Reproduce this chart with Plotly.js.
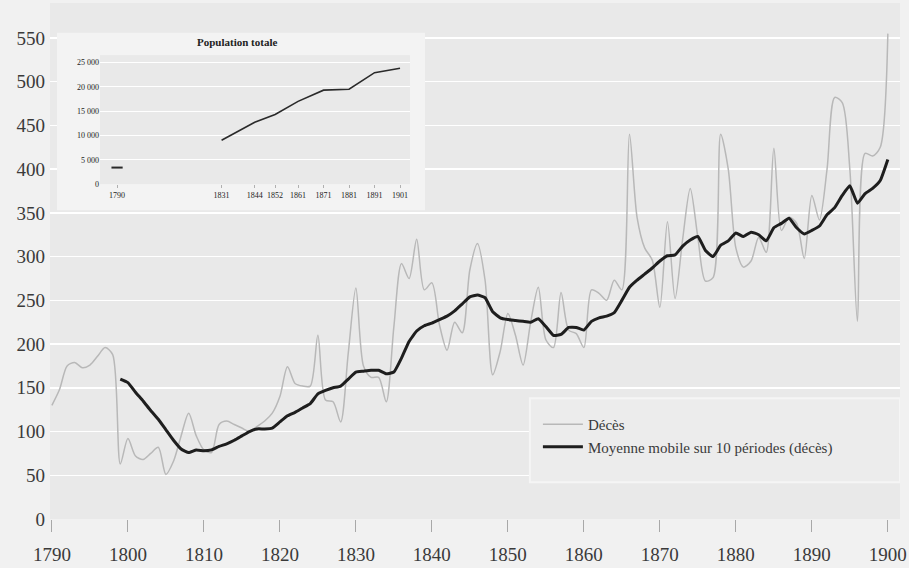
<!DOCTYPE html>
<html>
<head>
<meta charset="utf-8">
<script src="https://cdn.plot.ly/plotly-3.0.1.min.js"></script>
<style>
html,body{margin:0;padding:0;background:#f1f1f1;}
#chart{width:909px;height:568px;}
</style>
</head>
<body>
<div id="chart"></div>
<script>
// ---- Data ----
const deathStartYear = 1790;
const deaths = [
  130,148,175,179,173,176,186,196,188,63,
  92,72,68,75,82,51,66,95,121,95,
  79,76,108,112,108,104,100,106,112,121,
  140,174,155,152,152,210,136,134,111,190,
  264,175,162,162,134,220,292,275,320,262,
  270,222,193,225,213,285,315,273,165,192,
  235,210,176,225,265,205,196,259,216,212,
  196,262,258,250,273,262,440,345,310,296,
  242,340,252,320,378,322,272,276,440,400,
  310,288,295,322,305,424,330,345,338,298,
  370,342,400,482,476,400,226,418,415,425,
  555
];
const maStartYear = 1799;
const movingAvg = [
  160,156,145,135,124,114,102,90,80,76,
  79,78,79,83,86,90,95,100,103,103,
  104,111,118,122,127,132,143,147,150,152,
  160,168,169,170,170,166,168,184,203,215,
  221,224,228,232,238,246,254,256,253,237,
  230,228,227,226,225,229,220,210,211,219,
  219,216,226,230,232,236,250,265,273,280,
  287,295,301,302,312,319,323,307,300,313,
  318,327,323,328,325,318,333,338,344,333,
  326,330,335,348,356,370,381,361,372,378,
  387,411
];
const mainXTicks = [1790,1800,1810,1820,1830,1840,1850,1860,1870,1880,1890,1900];
const mainYTicks = [0,50,100,150,200,250,300,350,400,450,500,550];

const popYears  = [1790,1831,1844,1852,1861,1871,1881,1891,1901];
const popValues = [3400,9000,12700,14300,17000,19300,19500,22900,23800];
const popYTickVals = [0,5000,10000,15000,20000,25000];
const popYTickText = ['0','5 000','10 000','15 000','20 000','25 000'];

const deathYears = deaths.map((_, i) => deathStartYear + i);
const maYears = movingAvg.map((_, i) => maStartYear + i);

const serif = 'Liberation Serif, Times New Roman, serif';

const traces = [
  {
    x: deathYears, y: deaths, type: 'scatter', mode: 'lines',
    name: 'Décès',
    line: {color: '#b8b8b8', width: 1.5, shape: 'spline', smoothing: 0.8},
    xaxis: 'x', yaxis: 'y'
  },
  {
    x: maYears, y: movingAvg, type: 'scatter', mode: 'lines',
    name: 'Moyenne mobile sur 10 périodes (décès)',
    line: {color: '#1e1e1e', width: 3, shape: 'spline', smoothing: 0.4},
    xaxis: 'x', yaxis: 'y'
  },
  {
    x: popYears.slice(1), y: popValues.slice(1), type: 'scatter', mode: 'lines',
    line: {color: '#2a2a2a', width: 1.6},
    showlegend: false, xaxis: 'x2', yaxis: 'y2'
  },
  {
    x: popYears.slice(0, 1), y: popValues.slice(0, 1), type: 'scatter', mode: 'markers',
    marker: {symbol: 'line-ew', size: 8, line: {color: '#2a2a2a', width: 2}},
    showlegend: false, xaxis: 'x2', yaxis: 'y2'
  }
];

const layout = {
  width: 909, height: 568,
  margin: {l: 50, r: 9, t: 3, b: 49},
  paper_bgcolor: '#f1f1f1',
  plot_bgcolor: '#e9e9e9',
  font: {family: serif, color: '#3a3a3a'},
  showlegend: true,
  legend: {
    x: 0.574, y: 0.215, xanchor: 'left', yanchor: 'top',
    bgcolor: 'rgba(0,0,0,0)', borderwidth: 0, itemwidth: 40,
    font: {family: serif, size: 15, color: '#3a3a3a'}
  },
  xaxis: {
    range: [1789.75, 1901.6],
    tickvals: mainXTicks,
    ticks: 'outside', ticklen: 12, tickwidth: 1, tickcolor: '#a8a8a8',
    ticklabelstandoff: 6,
    showgrid: false, zeroline: false, showline: false,
    tickfont: {family: serif, size: 19, color: '#3a3a3a'}
  },
  yaxis: {
    range: [0, 590],
    tickvals: mainYTicks,
    showgrid: true, gridcolor: '#ffffff', gridwidth: 1.5,
    zeroline: false, showline: false, ticks: '',
    ticklabelstandoff: 4,
    tickfont: {family: serif, size: 19, color: '#3a3a3a'}
  },
  xaxis2: {
    domain: [0.0588, 0.4235], anchor: 'y2',
    range: [1783.3, 1904.9],
    tickvals: popYears,
    ticks: 'outside', ticklen: 3, tickcolor: '#b0b0b0',
    showgrid: false, zeroline: false, showline: false,
    tickfont: {family: serif, size: 8, color: '#222222'}
  },
  yaxis2: {
    domain: [0.649, 0.899], anchor: 'x2',
    range: [0, 26500],
    tickvals: popYTickVals, ticktext: popYTickText,
    showgrid: true, gridcolor: '#ffffff', gridwidth: 1,
    zeroline: false, showline: false, ticks: '',
    tickfont: {family: serif, size: 8, color: '#222222'}
  },
  shapes: [
    { // inset panel
      type: 'rect', xref: 'x', yref: 'y', layer: 'between',
      x0: 1790.67, x1: 1839.1, y0: 353, y1: 556,
      fillcolor: '#f3f3f3', line: {width: 0}
    },
    { // legend panel
      type: 'rect', xref: 'x', yref: 'y', layer: 'between',
      x0: 1852.9, x1: 1901.6, y0: 42, y1: 138,
      fillcolor: '#ececec', line: {color: '#f5f5f5', width: 2}
    }
  ],
  annotations: [
    {
      text: '<b>Population totale</b>',
      xref: 'paper', yref: 'paper', x: 0.22, y: 0.924,
      xanchor: 'center', yanchor: 'middle', showarrow: false,
      font: {family: serif, size: 11, color: '#222'}
    }
  ]
};

Plotly.newPlot('chart', traces, layout, {displayModeBar: false, staticPlot: true});
</script>
</body>
</html>
